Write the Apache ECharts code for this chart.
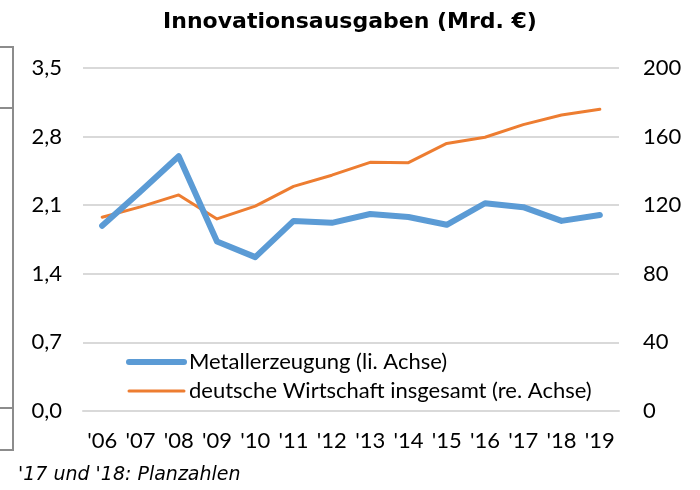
<!DOCTYPE html>
<html>
<head>
<meta charset="utf-8">
<script src="https://cdn.jsdelivr.net/npm/echarts@6/dist/echarts.min.js"></script>
<style>
  html, body { margin: 0; padding: 0; background: #fff; }
  #chart { width: 700px; height: 490px; }
</style>
</head>
<body>
<div id="chart"></div>
<script>
// Jahre (x-Achse)
var years = ["'06", "'07", "'08", "'09", "'10", "'11", "'12", "'13", "'14", "'15", "'16", "'17", "'18", "'19"]
// Metallerzeugung, Mrd. € (linke Achse)
var metall = [1.89, 2.24, 2.60, 1.73, 1.57, 1.94, 1.92, 2.01, 1.98, 1.90, 2.12, 2.08, 1.94, 2.00]
// deutsche Wirtschaft insgesamt, Mrd. € (rechte Achse)
var gesamt = [113, 119, 126, 112, 119.5, 131, 137.5, 145, 144.8, 156, 159.6, 167, 172.6, 176]

var labelFont = 'Lato, "Liberation Sans", sans-serif'

var chart = echarts.init(document.getElementById('chart'))

chart.setOption({
  animation: false,
  title: {
    text: 'Innovationsausgaben (Mrd. €)',
    left: 'center',
    top: 6,
    textStyle: {
      fontFamily: '"DejaVu Sans"',
      fontWeight: 'bold',
      fontSize: 22,
      color: '#000'
    }
  },
  legend: {
    orient: 'vertical',
    left: 126,
    top: 351,
    padding: 0,
    itemWidth: 55,
    itemHeight: 14,
    itemGap: 7,
    itemStyle: { opacity: 0 },
    textStyle: { fontFamily: labelFont, fontSize: 22, color: '#000' },
    data: [
      { name: 'Metallerzeugung (li. Achse)', lineStyle: { color: '#5b9bd5', width: 6, cap: 'round' } },
      { name: 'deutsche Wirtschaft insgesamt (re. Achse)', lineStyle: { color: '#ed7d31', width: 3, cap: 'round' } }
    ]
  },
  grid: { left: 83, right: 81, top: 68, bottom: 79 },
  xAxis: {
    type: 'category',
    data: years,
    boundaryGap: true,
    axisLine: { show: true, lineStyle: { color: '#d9d9d9', width: 2 } },
    axisTick: { show: false },
    axisLabel: { fontFamily: labelFont, fontSize: 22, color: '#000', margin: 19, interval: 0 }
  },
  yAxis: [
    {
      type: 'value',
      min: 0,
      max: 3.5,
      interval: 0.7,
      axisLine: { show: false },
      axisTick: { show: false },
      splitLine: { lineStyle: { color: '#d9d9d9', width: 2 } },
      axisLabel: {
        fontFamily: labelFont, fontSize: 22, color: '#000', margin: 21,
        formatter: function (v) { return v.toFixed(1).replace('.', ',') }
      }
    },
    {
      type: 'value',
      min: 0,
      max: 200,
      interval: 40,
      position: 'right',
      axisLine: { show: false },
      axisTick: { show: false },
      splitLine: { show: false },
      axisLabel: { fontFamily: labelFont, fontSize: 22, color: '#000', margin: 24 }
    }
  ],
  series: [
    {
      name: 'Metallerzeugung (li. Achse)',
      type: 'line',
      yAxisIndex: 0,
      data: metall,
      symbol: 'none',
      lineStyle: { color: '#5b9bd5', width: 6, join: 'round', cap: 'round' },
      itemStyle: { color: '#5b9bd5' },
      z: 3
    },
    {
      name: 'deutsche Wirtschaft insgesamt (re. Achse)',
      type: 'line',
      yAxisIndex: 1,
      data: gesamt,
      symbol: 'none',
      lineStyle: { color: '#ed7d31', width: 3, join: 'round', cap: 'round' },
      itemStyle: { color: '#ed7d31' },
      z: 2
    }
  ],
  graphic: [
    // graue Klammer am linken Rand (Rest des Ausschnitts)
    { type: 'polyline', shape: { points: [[0, 47], [13, 47], [13, 450], [0, 450]] }, style: { stroke: '#8c8c8c', lineWidth: 2, fill: null } },
    { type: 'line', shape: { x1: 0, y1: 108, x2: 13, y2: 108 }, style: { stroke: '#8c8c8c', lineWidth: 2 } },
    { type: 'line', shape: { x1: 0, y1: 408, x2: 13, y2: 408 }, style: { stroke: '#8c8c8c', lineWidth: 2 } },
    {
      type: 'text',
      left: 18,
      top: 466,
      style: {
        text: "'17 und '18: Planzahlen",
        font: 'italic 19px "DejaVu Sans"',
        fill: '#000'
      }
    }
  ]
})
</script>
</body>
</html>
